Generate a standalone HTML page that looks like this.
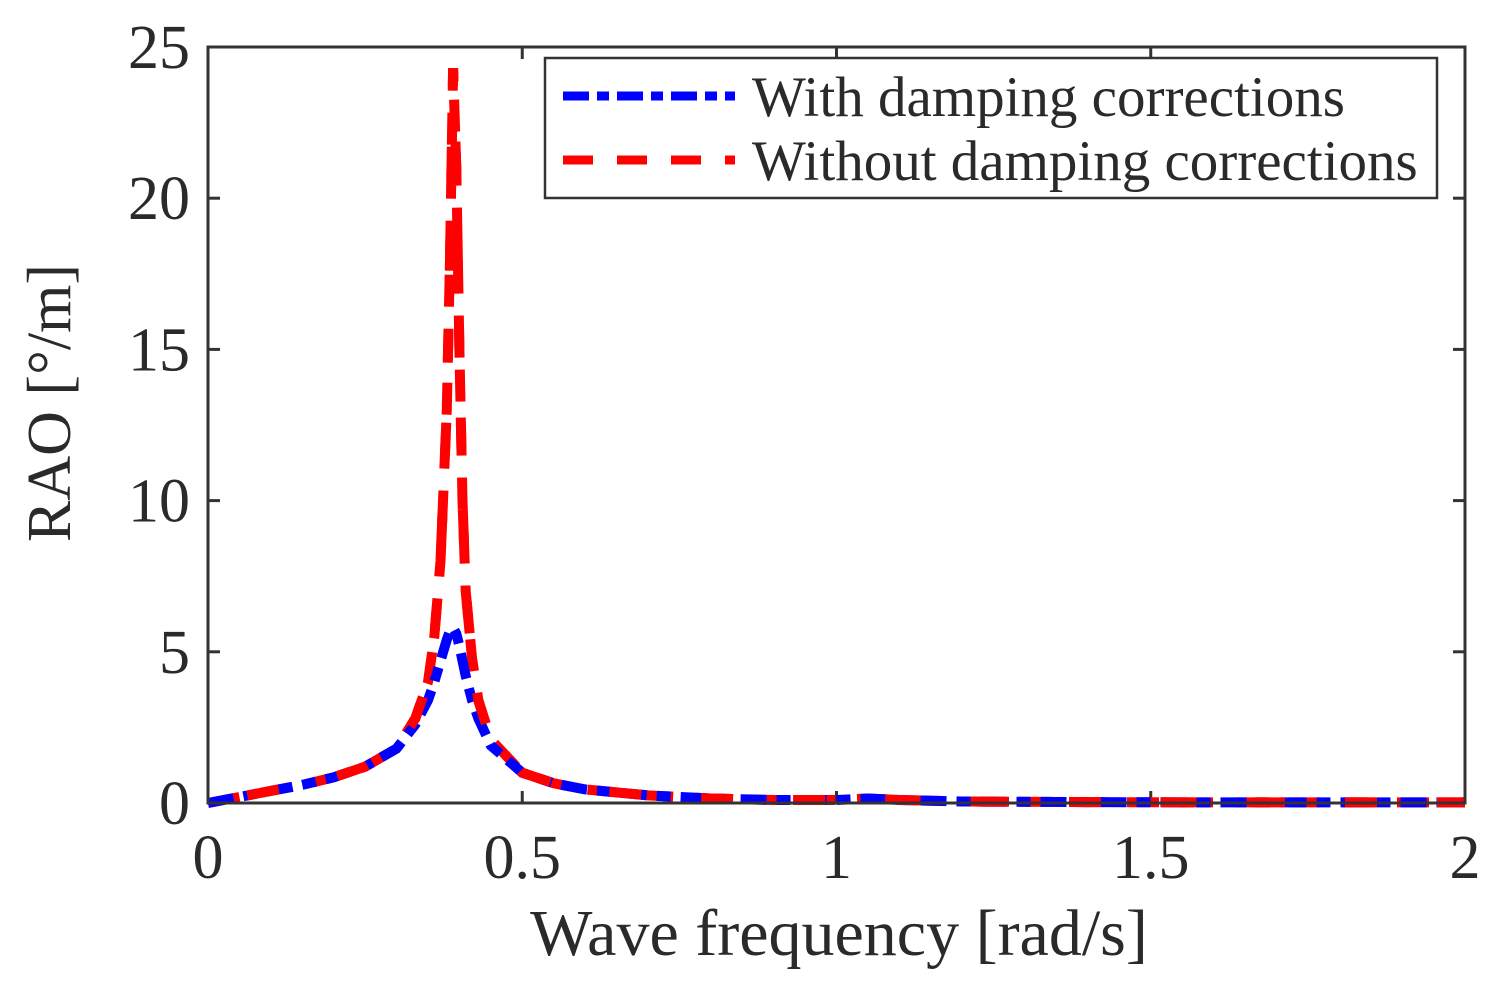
<!DOCTYPE html>
<html><head><meta charset="utf-8"><style>
body{margin:0;background:#fff}
svg text{font-family:"Liberation Serif",serif;fill:#2a2a2a}
</style></head><body>
<svg id="chart" width="1502" height="990" viewBox="0 0 1502 990">
<g id="grid"></g>
<g id="series"></g>
<rect x="208" y="47" width="1257" height="756" fill="none" stroke="#333" stroke-width="3"/>
<text x="839" y="955" font-size="66" text-anchor="middle">Wave frequency [rad/s]</text>
<text transform="translate(70,403) rotate(-90)" font-size="62" text-anchor="middle">RAO [°/m]</text>
<g>
<rect x="545" y="58" width="892" height="140" fill="#fff" stroke="#333" stroke-width="2.5"/>
<line x1="563" y1="96" x2="735" y2="96" stroke="#00f" stroke-width="9" stroke-dasharray="26,8,12,8"/>
<text x="752" y="116" font-size="57">With damping corrections</text>
<line x1="563" y1="160" x2="735" y2="160" stroke="#f00" stroke-width="9" stroke-dasharray="30,24"/>
<text x="752" y="180" font-size="57">Without damping corrections</text>
</g>
</svg>
<script>
const freq=[0,0.05,0.1,0.15,0.2,0.25,0.3,0.33,0.35,0.36,0.37,0.38,0.385,0.39,0.395,0.40,0.405,0.41,0.42,0.43,0.45,0.5,0.55,0.6,0.7,0.8,0.9,1.0,1.05,1.1,1.2,1.4,1.6,1.8,2.0];
const withDamping=[0,0.2,0.4,0.6,0.85,1.2,1.8,2.6,3.4,4.0,4.7,5.4,5.7,5.8,5.6,5.2,4.7,4.2,3.4,2.8,1.9,1.0,0.65,0.45,0.25,0.15,0.1,0.1,0.15,0.1,0.05,0.03,0.02,0.02,0.02];
const withoutDamping=[0,0.2,0.4,0.6,0.85,1.2,1.8,2.8,4.0,5.5,8.0,13,18,24.3,21,15,10,7,4.8,3.4,2.1,1.0,0.65,0.45,0.25,0.15,0.1,0.1,0.15,0.1,0.05,0.03,0.02,0.02,0.02];
const xTicks=[0,0.5,1,1.5,2];
const xTickLabels=["0","0.5","1","1.5","2"];
const yTicks=[0,5,10,15,20,25];
const yTickLabels=["0","5","10","15","20","25"];
const X0=208,X1=1465,Y0=803,Y1=47;
const xs=v=>X0+(v-0)/(2-0)*(X1-X0);
const ys=v=>Y0-(v-0)/(25-0)*(Y0-Y1);
const NS="http://www.w3.org/2000/svg";
const g=document.getElementById('grid'),s=document.getElementById('series');
function mk(tag,at,parent){const e=document.createElementNS(NS,tag);for(const k in at)e.setAttribute(k,at[k]);parent.appendChild(e);return e;}
xTicks.forEach((t,i)=>{
 const x=xs(t);
 const a=mk('line',{x1:x,x2:x,y1:Y0,y2:Y0-12,stroke:'#333','stroke-width':3},g);
 
 
 const b=mk('line',{x1:x,x2:x,y1:Y1,y2:Y1+12,stroke:'#333','stroke-width':3},g);
 
 
 const l=mk('text',{x:x,y:878,'font-size':62,'text-anchor':'middle'},g);
 l.textContent=xTickLabels[i];
 
 
});
yTicks.forEach((t,i)=>{
 const y=ys(t);
 const a=mk('line',{x1:X0,x2:X0+12,y1:y,y2:y,stroke:'#333','stroke-width':3},g);
 
 
 const b=mk('line',{x1:X1,x2:X1-12,y1:y,y2:y,stroke:'#333','stroke-width':3},g);
 
 
 const l=mk('text',{x:190,y:y+21,'font-size':62,'text-anchor':'end'},g);
 l.textContent=yTickLabels[i];
 
 
});
function path(vals){return vals.map((v,i)=>(i?'L':'M')+xs(freq[i]).toFixed(1)+','+ys(v).toFixed(1)).join(' ');}
const pr=mk('path',{d:path(withoutDamping),fill:'none',stroke:'#f00','stroke-width':10,'stroke-dasharray':'32,22'},s);


const pb=mk('path',{d:path(withDamping),fill:'none',stroke:'#00f','stroke-width':10,'stroke-dasharray':'26,10,14,10'},s);


const pr2=mk('path',{d:path(withoutDamping),fill:'none',stroke:'#f00','stroke-width':10,'stroke-dasharray':'32,60','stroke-dashoffset':'-40'},s);


</script>
</body></html>
